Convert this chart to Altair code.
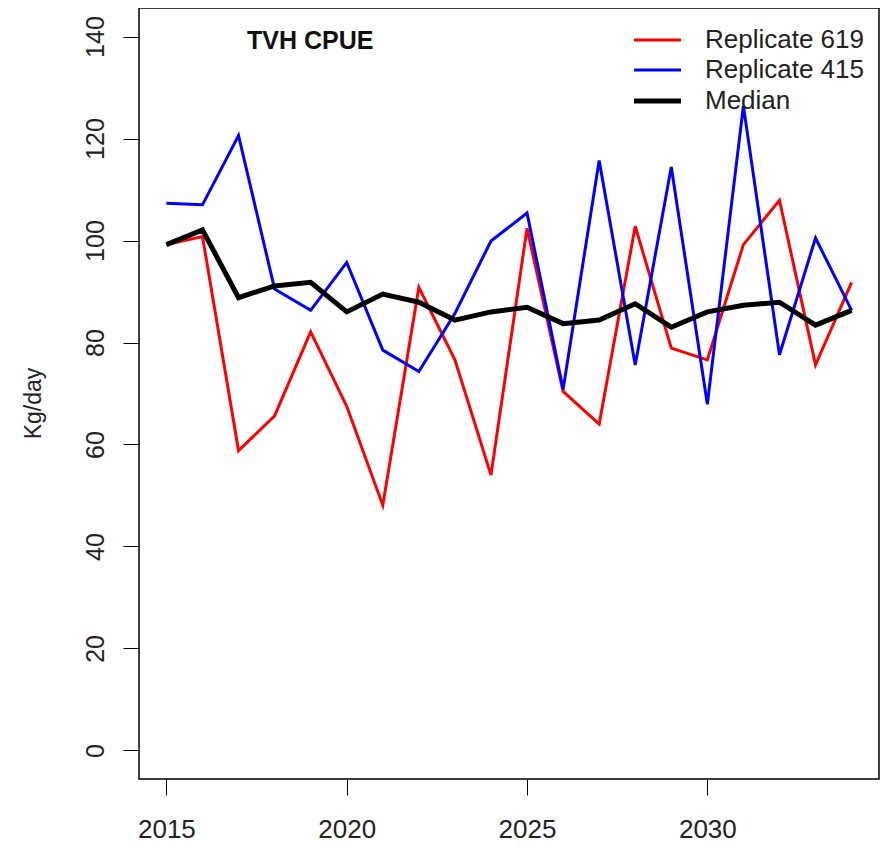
import altair as alt
import pandas as pd

years = list(range(2015, 2035))
rep619 = [99.2, 100.8, 58.8, 65.6, 82.1, 67.5, 48.1, 90.8, 76.6, 54.0,
          102.4, 70.4, 64.0, 102.8, 78.9, 76.6, 99.2, 107.9, 75.6, 91.8]
rep415 = [107.3, 107.0, 120.6, 90.5, 86.3, 95.7, 78.5, 74.3, 85.7, 99.9,
          105.4, 70.8, 115.7, 75.6, 114.4, 67.9, 126.4, 77.6, 100.5, 86.3]
median = [99.2, 102.1, 88.8, 91.1, 91.8, 86.0, 89.5, 87.9, 84.4, 86.0,
          86.9, 83.7, 84.4, 87.6, 83.0, 86.0, 87.3, 87.9, 83.4, 86.3]

series_names = ["Replicate 619", "Replicate 415", "Median"]
series_colors = ["#FF0000", "#0000FF", "#000000"]
series_widths = [3, 3, 5]
x_ticks = [2015, 2020, 2025, 2030]
y_ticks = [0, 20, 40, 60, 80, 100, 120, 140]

rows = []
for name, vals in zip(series_names, [rep619, rep415, median]):
    for yr, v in zip(years, vals):
        rows.append({"year": yr, "value": v, "series": name})
df = pd.DataFrame(rows)

FONT = "Liberation Sans"

chart = alt.Chart(df).mark_line(clip=True).encode(
    x=alt.X("year:Q",
            scale=alt.Scale(domain=[2014.24, 2034.76], nice=False, zero=False),
            axis=alt.Axis(values=x_ticks, title=None, format="d", domain=False, grid=False,
                          tickSize=16, tickColor="black", tickWidth=1,
                          labelFontSize=26, labelFont=FONT, labelColor="#222222",
                          labelPadding=21, labelBaseline="top")),
    y=alt.Y("value:Q",
            scale=alt.Scale(domain=[-5.6, 145.6], nice=False, zero=False),
            axis=alt.Axis(values=y_ticks, title="Kg/day", domain=False, grid=False,
                          tickSize=16, tickColor="black", tickWidth=1,
                          labelAngle=-90, labelAlign="center", labelBaseline="alphabetic",
                          labelFontSize=25, labelFont=FONT, labelColor="#222222",
                          labelPadding=20,
                          titleFont=FONT, titleFontSize=23, titleFontWeight="normal",
                          titleColor="#222222", titleAngle=-90, titleAlign="center",
                          titleBaseline="middle", titleX=-106, titleY=395)),
    color=alt.Color("series:O", sort=series_names,
                    scale=alt.Scale(domain=series_names, range=series_colors),
                    legend=alt.Legend(title=None)),
    strokeWidth=alt.StrokeWidth("series:O", sort=series_names,
                                scale=alt.Scale(type="ordinal", domain=series_names, range=series_widths),
                                legend=alt.Legend(title=None)),
).properties(
    width=740,
    height=771,
    autosize=alt.AutoSizeParams(type="none"),
    padding={"left": 131, "top": 0, "right": 4, "bottom": 66},
    title=alt.TitleParams("TVH CPUE", anchor="start", orient="top", frame="group",
                          font=FONT, fontSize=25, fontWeight="bold", color="#111111",
                          offset=0, dx=108, dy=66, baseline="alphabetic"),
).configure_view(
    stroke="black", strokeWidth=1.5
).configure_legend(
    orient="none", legendX=504, legendY=18.5, padding=0,
    symbolType="M-2,0H2", symbolSize=552, labelOffset=33,
    labelFont=FONT, labelFontSize=26, labelColor="#222222", rowPadding=3,
)

chart.save("out.html", embed_options={"renderer": "svg", "actions": False})
